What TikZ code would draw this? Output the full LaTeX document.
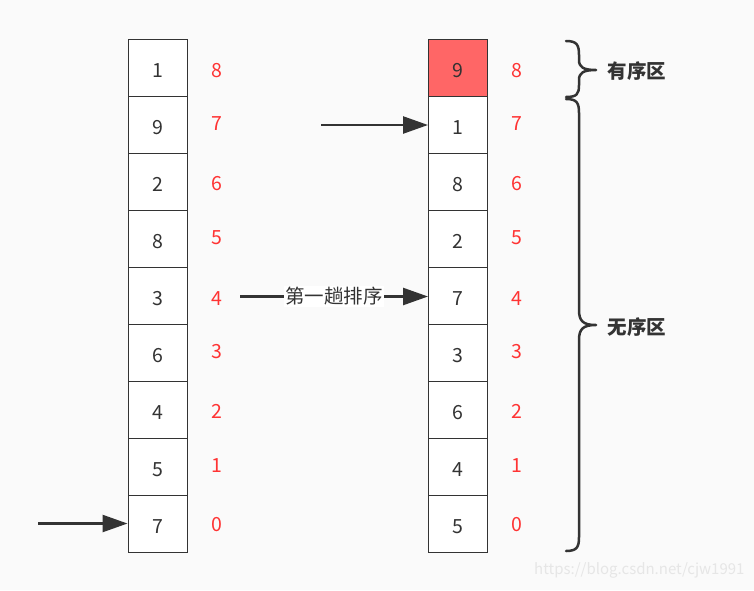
\documentclass[tikz,border=0pt]{standalone}
\usepackage{fontspec}
\setmainfont{Noto Sans CJK SC}
\newfontfamily\cjk{Noto Sans CJK SC}
\usetikzlibrary{arrows.meta}
\definecolor{bg}{HTML}{FAFAFA}
\definecolor{ink}{HTML}{333333}
\definecolor{idx}{HTML}{FF3333}
\definecolor{hot}{HTML}{FF6666}
\definecolor{wm}{HTML}{E6E6E6}
\begin{document}
\begin{tikzpicture}[x=1pt,y=-1pt,
  cell/.style={draw=ink,line width=1pt,fill=white,minimum width=59pt,minimum height=57pt,inner sep=0pt,text height=19pt,text depth=0pt,font=\fontsize{19.5}{19.5}\selectfont,text=ink},
  idxlab/.style={font=\fontsize{19.5}{19.5}\selectfont,text=idx},
  arr/.style={draw=ink,line width=2.5pt,-{Triangle[length=25pt,width=17pt]}},
  brc/.style={draw=ink,line width=2.5pt,line cap=round},
  zone/.style={font=\bfseries\fontsize{19.5}{19.5}\selectfont,text=ink,anchor=west}]
\fill[bg] (0,0) rectangle (754,590);
\useasboundingbox (0,0) rectangle (754,590);
% left column
\foreach \v [count=\i from 0] in {1,9,2,8,3,6,4,5,7}
  \node[cell] (L\i) at (157.5,{67.5+57*\i}) {\v};
% right column
\node[cell,fill=hot] (R0) at (458,67.5) {9};
\foreach \v [count=\i from 1] in {1,8,2,7,3,6,4,5}
  \node[cell] (R\i) at (458,{67.5+57*\i}) {\v};
% index labels
\foreach \n/\y [count=\i from 0] in {8/70.5,7/123.5,6/183.5,5/237.5,4/298.5,3/351.5,2/411.5,1/465.5,0/524.5}{
  \node[idxlab] (li\i) at (217,\y) {\n};
  \node[idxlab] (ri\i) at (517,\y) {\n};
}
% arrows
\coordinate (a1) at (38,523.5);
\draw[arr] (a1) -- (L8.west);
\coordinate (a2) at (321,125);
\draw[arr] (a2) -- (R1.west |- a2);
\coordinate (a3) at (240,296.5);
\draw[arr] (a3) -- (R4.west |- a3) node[pos=0.5,fill=white,inner sep=1pt,font=\fontsize{19.5}{19.5}\selectfont,text=ink] (lab) {第一趟排序};
% braces
\draw[brc] (566,41) .. controls (577,41) and (579,45) .. (579,55) -- (579,60)
  .. controls (579,67) and (583,70) .. (596,70)
  (579,80) .. controls (579,73) and (583,70) .. (596,70)
  (579,80) -- (579,85) .. controls (579,94) and (577,97) .. (566,97);
\draw[brc] (566,99) .. controls (577,99) and (579,103) .. (579,113) -- (579,310)
  .. controls (579,321) and (583,325) .. (596,325)
  (579,340) .. controls (579,329) and (583,325) .. (596,325)
  (579,340) -- (579,537) .. controls (579,547) and (577,551) .. (566,551);
\node[zone] (z1) at (604,71) {有序区};
\node[zone] (z2) at (604,327) {无序区};
\node[font=\fontsize{15}{15}\selectfont,text=wm,anchor=east] (wmk) at (748,570) {https://blog.csdn.net/cjw1991};
\end{tikzpicture}
\end{document}
